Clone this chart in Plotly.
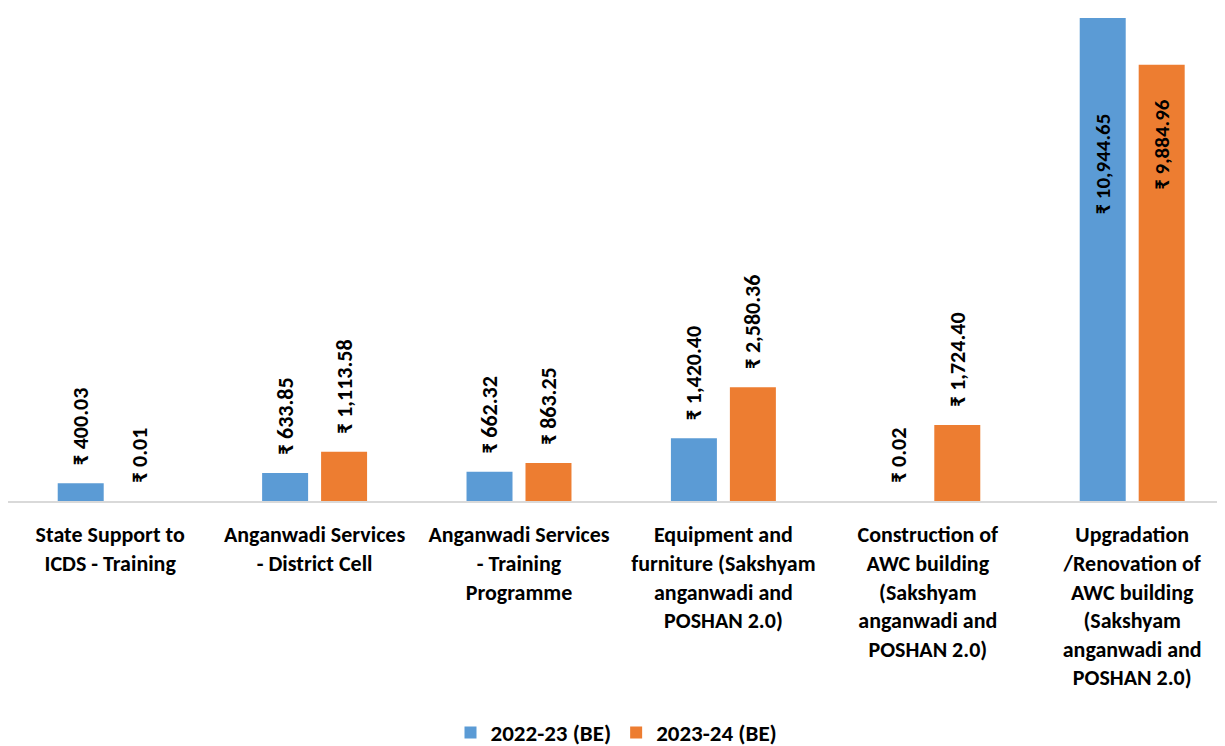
import plotly.graph_objects as go

categories = [
    "State Support to<br>ICDS - Training",
    "Anganwadi Services<br>- District Cell",
    "Anganwadi Services<br>- Training<br>Programme",
    "Equipment and<br>furniture (Sakshyam<br>anganwadi and<br>POSHAN 2.0)",
    "Construction of<br>AWC building<br>(Sakshyam<br>anganwadi and<br>POSHAN 2.0)",
    "Upgradation<br>/Renovation of<br>AWC building<br>(Sakshyam<br>anganwadi and<br>POSHAN 2.0)",
]
series_names = ["2022-23 (BE)", "2023-24 (BE)"]
be_2022_23 = [400.03, 633.85, 662.32, 1420.40, 0.02, 10944.65]
be_2023_24 = [0.01, 1113.58, 863.25, 2580.36, 1724.40, 9884.96]

colors = ["#5B9BD5", "#ED7D31"]
FONT = "Carlito, Calibri, Lato, sans-serif"
PAD = "\u00a0\u00a0\u00a0"
BIG = 5000  # values above this get their label inside the bar
BARGAP = 0.423

fig = go.Figure()
for name, vals, col in zip(series_names, [be_2022_23, be_2023_24], colors):
    texts = [("" if v > BIG else PAD + "₹ " + f"{v:,.2f}") for v in vals]
    fig.add_trace(go.Bar(
        name=name, x=list(range(len(categories))), y=vals,
        marker=dict(color=col, line=dict(width=0)),
        text=texts, textposition="outside", textangle=-90, constraintext="none",
        textfont=dict(family=FONT, size=22, color="black", weight="bold"),
        cliponaxis=False,
    ))

# labels inside the tall bars
off = (1 - BARGAP) / 4
for k, (vals, sgn) in enumerate([(be_2022_23, -1), (be_2023_24, 1)]):
    for i, v in enumerate(vals):
        if v > BIG:
            fig.add_annotation(
                x=i + sgn * off, y=v * (0.698 if k == 0 else 0.818), xref="x", yref="y",
                text="₹ " + f"{v:,.2f}", textangle=-90, showarrow=False,
                font=dict(family=FONT, size=21, color="black", weight="bold"),
                xanchor="center", yanchor="middle",
            )

fig.update_layout(
    width=1225, height=746,
    margin=dict(l=0, r=8, t=2, b=252),
    barmode="group", bargap=BARGAP, bargroupgap=0.22,
    plot_bgcolor="white", paper_bgcolor="white",
    showlegend=True,
    legend=dict(orientation="h", x=0.5, xanchor="center", y=-0.47, yanchor="middle",
                font=dict(family=FONT, size=23, color="black", weight="bold"),
                itemwidth=30, traceorder="normal"),
    xaxis=dict(tickmode="array", tickvals=list(range(len(categories))), ticktext=categories,
               range=[-0.5, 5.454], tickangle=0, showline=True, linecolor="#D9D9D9",
               linewidth=2, showgrid=False, ticks="", zeroline=False, ticklabelstandoff=13,
               tickfont=dict(family=FONT, size=22, color="black", weight="bold")),
    yaxis=dict(range=[0, 11126], visible=False, showgrid=False, zeroline=False),
)

fig.write_html("out.html")
